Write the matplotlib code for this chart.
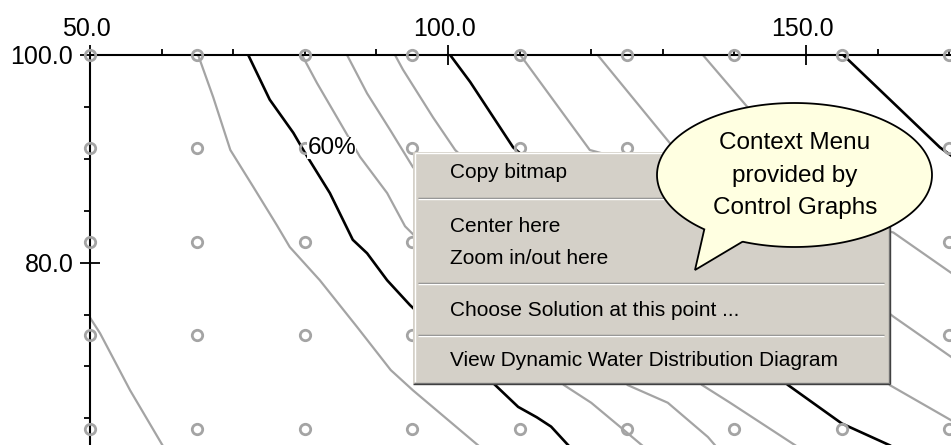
import numpy as np
import matplotlib
matplotlib.use('Agg')
import matplotlib.pyplot as plt
from matplotlib.patches import Rectangle, Polygon
from matplotlib.lines import Line2D
from matplotlib.ticker import FormatStrFormatter
from matplotlib.transforms import ScaledTranslation

plt.rcParams['font.family'] = ['Liberation Sans', 'DejaVu Sans']

# sample grid (the small circles)
grid_x = [50, 65, 80, 95, 110, 125, 140, 155, 170]
grid_y = [100, 91, 82, 73, 64]

# contour lines, left to right
z_x = [50.0, 51.4, 55.6, 60.3]
z_y = [74.7, 73.2, 67.7, 62.2]

a_x = [65.1, 67.2, 69.6, 72.8, 76.1, 77.9, 82.1, 87.3, 92.0, 95.1, 104.2]
a_y = [100.0, 95.95, 90.85, 87.3, 83.6, 81.5, 78.3, 73.8, 69.65, 67.7, 62.4]

p60_x = [72.1, 75.1, 78.4, 80.0, 83.5, 86.7, 88.7, 91.5, 94.7, 106.6, 109.8, 112.4, 114.4, 116.8]
p60_y = [100.0, 95.7, 92.5, 90.6, 86.7, 82.2, 80.9, 78.3, 75.9, 68.2, 66.1, 65.1, 64.2, 62.4]

b_x = [79.6, 81.7, 83.9, 87.7, 91.5, 94.0, 116.2, 120.0, 124.0, 127.1]
b_y = [100.0, 97.3, 94.7, 90.2, 86.7, 83.5, 68.2, 66.5, 64.2, 62.4]

c_x = [85.9, 88.7, 91.9, 95.1, 125.1, 130.7, 136.3, 137.3]
c_y = [100.0, 96.3, 92.8, 89.2, 68.2, 66.5, 63.2, 62.4]

d_x = [92.6, 93.7, 97.9, 101.0, 135.5, 139.4, 148.5]
d_y = [100.0, 98.6, 94.0, 90.85, 68.2, 66.5, 62.4]

e_x = [100.3, 103.1, 109.1, 147.5, 155.0, 161.7]
e_y = [100.0, 97.4, 91.1, 68.2, 64.5, 62.4]

f_x = [110.1, 119.8, 162.2, 170.3]
f_y = [100.0, 90.85, 82.9, 79.0]

g_x = [120.9, 131.0, 162.2, 170.3]
g_y = [100.0, 91.5, 74.8, 70.9]

h_x = [135.6, 141.8, 161.7, 170.3]
h_y = [100.0, 95.0, 68.2, 64.8]

i_x = [155.2, 168.7, 170.3]
i_y = [100.0, 91.1, 90.3]

gray_lines = [(z_x, z_y), (a_x, a_y), (b_x, b_y), (c_x, c_y), (d_x, d_y),
              (f_x, f_y), (g_x, g_y), (h_x, h_y)]
black_lines = [(p60_x, p60_y), (e_x, e_y), (i_x, i_y)]

x_major = [50, 100, 150]
x_minor = [60, 70, 80, 90, 110, 120, 130, 140, 160, 170]
y_major = [80, 100]
y_minor = [65, 70, 75, 85, 90, 95]

menu_items = ['Copy bitmap', 'Center here', 'Zoom in/out here',
              'Choose Solution at this point ...',
              'View Dynamic Water Distribution Diagram']
bubble_lines = ['Context Menu', 'provided by', 'Control Graphs']

W, H = 951, 445
GRAY = '#a4a4a4'

fig = plt.figure(figsize=(W / 100, H / 100), dpi=100)
ax = fig.add_axes([90 / W, 0, 1 - 90 / W, 1 - 55 / H])
ax.set_xlim(50, 170.25)
ax.set_ylim(62.43, 100)

for xs, ys in gray_lines:
    ax.plot(xs, ys, color=GRAY, lw=1.6, zorder=2)
for xs, ys in black_lines:
    ax.plot(xs, ys, color='black', lw=1.9, zorder=2)

gx, gy = np.meshgrid(grid_x, grid_y)
ax.plot(gx.ravel(), gy.ravel(), 'o', ms=7.5, mfc='none', mec=GRAY, mew=2,
        clip_on=False, zorder=4)

ax.text(80.35, 91.0, '60%', fontsize=17.5, ha='left', va='center',
        bbox=dict(fc='white', ec='none', pad=0), zorder=5)

ax.xaxis.tick_top()
ax.set_xticks(x_major)
ax.set_xticks(x_minor, minor=True)
ax.set_yticks(y_major)
ax.set_yticks(y_minor, minor=True)
ax.xaxis.set_major_formatter(FormatStrFormatter('%.1f'))
ax.yaxis.set_major_formatter(FormatStrFormatter('%.1f'))
ax.tick_params(which='major', direction='inout', length=14, width=1.3,
               labelsize=18, colors='black')
ax.tick_params(which='minor', direction='out', length=4, width=1.3)
ax.tick_params(axis='x', which='major', pad=3)
ax.tick_params(axis='y', which='major', pad=5)
# the x labels sit a few pixels left of their ticks
shift = ScaledTranslation(-4 / 100, 0, fig.dpi_scale_trans)
for lbl in ax.get_xticklabels():
    lbl.set_transform(lbl.get_transform() + shift)
for s in ['right', 'bottom']:
    ax.spines[s].set_visible(False)
for s in ['top', 'left']:
    ax.spines[s].set_linewidth(1.5)


def fp(px, py):
    return px / W, 1 - py / H


def fig_line(xs, ys, color, lw=1.0, z=11):
    pts = [fp(x, y) for x, y in zip(xs, ys)]
    fig.add_artist(Line2D([p[0] for p in pts], [p[1] for p in pts],
                          transform=fig.transFigure, color=color, lw=lw,
                          zorder=z, solid_capstyle='butt'))


# context menu
mx0, my0, mx1, my1 = 413, 152, 890, 384
x0, y1 = fp(mx0, my0)
x1, y0 = fp(mx1, my1)
fig.add_artist(Rectangle((x0, y0), x1 - x0, y1 - y0, transform=fig.transFigure,
                         fc='#d4d0c8', ec='none', zorder=10))
fig_line([mx0 + 1.5, mx0 + 1.5], [my1 - 2, my0 + 1.5], 'white')
fig_line([mx0 + 1.5, mx1 - 2], [my0 + 1.5, my0 + 1.5], 'white')
fig_line([mx1 - 1.5, mx1 - 1.5], [my0 + 1, my1 - 1.5], '#808080')
fig_line([mx0 + 1, mx1 - 1.5], [my1 - 1.5, my1 - 1.5], '#808080')
fig_line([mx1 - 0.5, mx1 - 0.5], [my0, my1], '#404040')
fig_line([mx0, mx1], [my1 - 0.5, my1 - 0.5], '#404040')
for sy in [198, 283, 335]:
    fig_line([mx0 + 5, mx1 - 6], [sy, sy], '#808080')
    fig_line([mx0 + 5, mx1 - 6], [sy + 1, sy + 1], 'white')

for label, ty in zip(menu_items, [172, 226, 258, 310, 361]):
    fig.text(*fp(450, ty), label, fontsize=15, ha='left', va='center',
             color='black', zorder=12)

# speech bubble
cx, cy, ra, rb = 794.5, 175, 137.5, 72
t_left, t_right = np.radians(131), np.radians(112)
t = np.linspace(t_left, t_right + 2 * np.pi, 200)
bx = list(cx + ra * np.cos(t)) + [742, 695]
by = list(cy + rb * np.sin(t)) + [242, 270]
bubble = Polygon([fp(x, y) for x, y in zip(bx, by)], closed=True,
                 transform=fig.transFigure, fc='#ffffe1', ec='black',
                 lw=1.3, zorder=13)
fig.add_artist(bubble)
for label, ty in zip(bubble_lines, [143, 176, 208]):
    fig.text(*fp(795, ty), label, fontsize=17.5, ha='center', va='center',
             color='black', zorder=14)

fig.savefig('out.png', dpi=100, facecolor='white')
